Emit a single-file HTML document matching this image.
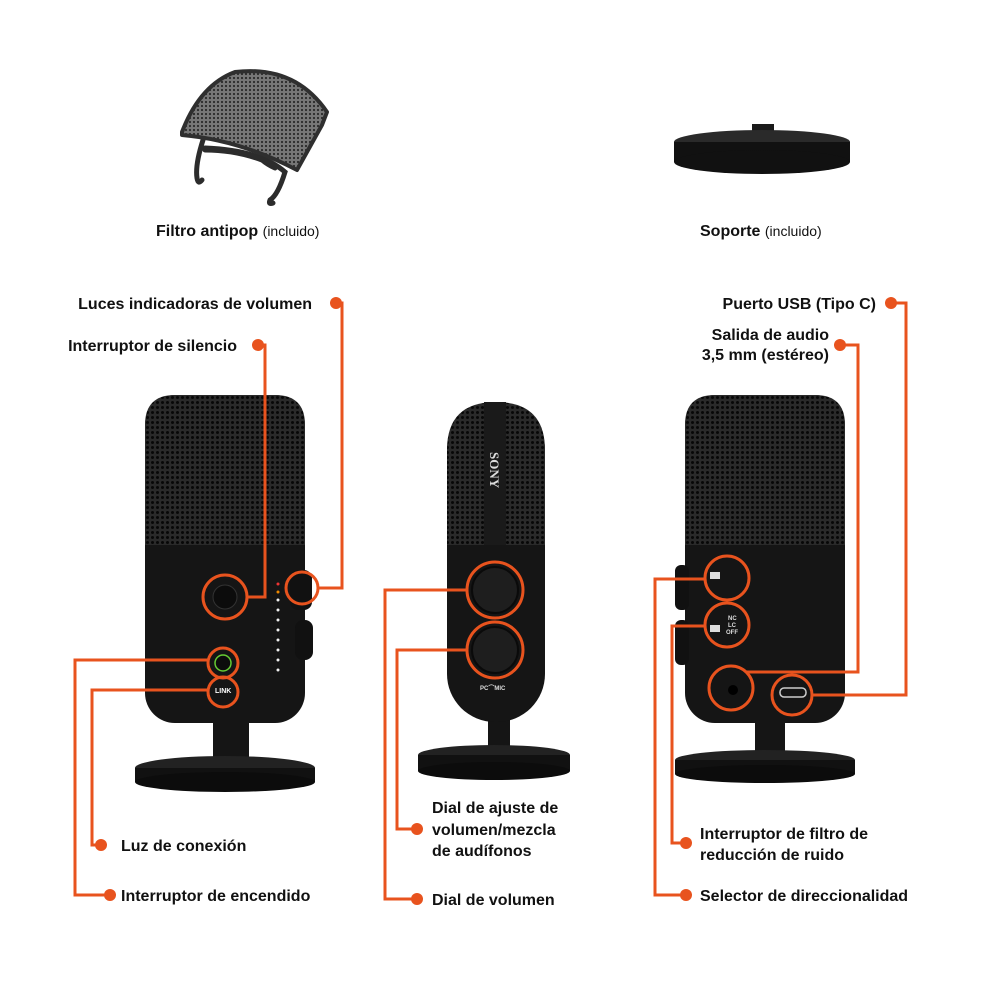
<!DOCTYPE html>
<html><head><meta charset="utf-8"><style>
html,body{margin:0;padding:0;background:#fff;}
svg{display:block;}
text{font-family:"Liberation Sans",sans-serif;font-size:16px;fill:#111;font-weight:bold;}
.l{font-weight:normal;font-size:14px;}
</style></head><body>
<svg width="1000" height="1000" viewBox="0 0 1000 1000" xmlns="http://www.w3.org/2000/svg">
<defs>
<pattern id="mesh" width="5" height="5" patternUnits="userSpaceOnUse">
<rect width="5" height="5" fill="#2a2a2a"/><circle cx="2.5" cy="2.5" r="1.5" fill="#070707"/>
</pattern>
<pattern id="pm" width="4" height="4" patternUnits="userSpaceOnUse">
<rect width="4" height="4" fill="#777"/><circle cx="2" cy="2" r="1.1" fill="#2a2a2a"/>
</pattern>
</defs>

<!-- pop filter -->
<path d="M203 140 Q195 165 197 178 Q198 185 202 180 M205 150 Q235 150 262 160 M262 160 Q268 165 275 168 M205 148 Q260 150 285 172 Q278 195 270 200 Q268 205 273 203" fill="none" stroke="#2c2c2c" stroke-width="5" stroke-linecap="round"/>
<path d="M182 132 Q200 85 235 72 Q295 65 327 112 L322 125 L297 170 Q240 140 182 135 Z" fill="url(#pm)" stroke="#2f2f2f" stroke-width="4" stroke-linejoin="round"/>
<text x="156" y="236">Filtro antipop <tspan class="l">(incluido)</tspan></text>

<!-- stand -->
<rect x="752" y="124" width="22" height="18" fill="#1a1a1a"/>
<ellipse cx="762" cy="142" rx="88" ry="12" fill="#2a2a2a"/>
<rect x="674" y="142" width="176" height="20" fill="#111"/>
<ellipse cx="762" cy="162" rx="88" ry="12" fill="#111"/>
<text x="700" y="236">Soporte <tspan class="l">(incluido)</tspan></text>

<!-- left mic -->
<rect x="213" y="718" width="36" height="45" fill="#151515"/>
<ellipse cx="225" cy="768" rx="90" ry="12" fill="#222"/>
<rect x="135" y="768" width="180" height="14" fill="#111"/>
<ellipse cx="225" cy="782" rx="90" ry="10" fill="#0c0c0c"/>
<rect x="145" y="395" width="160" height="328" rx="30" fill="#151515"/>
<path d="M145 425 Q145 395 175 395 L275 395 Q305 395 305 425 L305 545 L145 545 Z" fill="url(#mesh)"/>
<rect x="290" y="570" width="22" height="40" rx="8" fill="#111"/>
<rect x="295" y="620" width="18" height="40" rx="8" fill="#111"/>
<circle cx="225" cy="597" r="12" fill="#0c0c0c" stroke="#333"/>
<circle cx="223" cy="663" r="8" fill="#0c0c0c" stroke="#6c3" stroke-width="1.5"/>
<text x="215" y="693" style="font-size:7px;fill:#fff">LINK</text>
<g fill="#eee"><circle cx="278" cy="600" r="1.5"/><circle cx="278" cy="610" r="1.5"/><circle cx="278" cy="620" r="1.5"/><circle cx="278" cy="630" r="1.5"/><circle cx="278" cy="640" r="1.5"/><circle cx="278" cy="650" r="1.5"/><circle cx="278" cy="660" r="1.5"/><circle cx="278" cy="670" r="1.5"/></g>
<circle cx="278" cy="584" r="1.5" fill="#e33"/><circle cx="278" cy="592" r="1.5" fill="#e80"/>

<!-- middle mic -->
<rect x="488" y="720" width="22" height="30" fill="#151515"/>
<ellipse cx="494" cy="755" rx="76" ry="10" fill="#222"/>
<rect x="418" y="755" width="152" height="16" fill="#111"/>
<ellipse cx="494" cy="771" rx="76" ry="9" fill="#0c0c0c"/>
<rect x="447" y="402" width="98" height="320" rx="48" fill="#151515"/>
<path d="M447 450 Q447 402 496 402 Q545 402 545 450 L545 545 L447 545 Z" fill="url(#mesh)"/>
<rect x="484" y="402" width="22" height="143" fill="#1a1a1a"/>
<text x="0" y="0" transform="translate(490,452) rotate(90)" style="font-family:'Liberation Serif',serif;font-size:13px;fill:#ddd">SONY</text>
<circle cx="495" cy="590" r="23" fill="#1e1e1e" stroke="#0a0a0a" stroke-width="2"/>
<circle cx="495" cy="650" r="23" fill="#1e1e1e" stroke="#0a0a0a" stroke-width="2"/>
<text x="480" y="690" style="font-size:6px;fill:#ddd">PC⌒MIC</text>

<!-- right mic -->
<rect x="755" y="718" width="30" height="40" fill="#151515"/>
<ellipse cx="765" cy="760" rx="90" ry="10" fill="#222"/>
<rect x="675" y="760" width="180" height="14" fill="#111"/>
<ellipse cx="765" cy="774" rx="90" ry="9" fill="#0c0c0c"/>
<rect x="685" y="395" width="160" height="328" rx="30" fill="#151515"/>
<path d="M685 425 Q685 395 715 395 L815 395 Q845 395 845 425 L845 545 L685 545 Z" fill="url(#mesh)"/>
<rect x="675" y="565" width="14" height="45" rx="6" fill="#111"/>
<rect x="675" y="620" width="14" height="45" rx="6" fill="#111"/>
<rect x="710" y="572" width="10" height="7" fill="#ddd"/>
<rect x="710" y="625" width="10" height="7" fill="#ddd"/>
<text x="728" y="620" style="font-size:6px;fill:#ddd">NC</text>
<text x="728" y="627" style="font-size:6px;fill:#ddd">LC</text>
<text x="726" y="634" style="font-size:6px;fill:#ddd">OFF</text>
<circle cx="733" cy="690" r="5" fill="#000"/>
<rect x="780" y="688" width="26" height="9" rx="4" fill="none" stroke="#ccc" stroke-width="1.5"/>

<!-- orange callouts -->
<g fill="none" stroke="#e8531e" stroke-width="3">
<circle cx="302" cy="588" r="16"/>
<circle cx="225" cy="597" r="22"/>
<circle cx="223" cy="663" r="15"/>
<circle cx="223" cy="692" r="15"/>
<circle cx="495" cy="590" r="28"/>
<circle cx="495" cy="650" r="28"/>
<circle cx="727" cy="578" r="22"/>
<circle cx="727" cy="625" r="22"/>
<circle cx="731" cy="688" r="22"/>
<circle cx="792" cy="695" r="20"/>
<polyline points="336,303 342,303 342,588 318,588"/>
<polyline points="258,345 265,345 265,597 247,597"/>
<polyline points="101,845 92,845 92,690 208,690"/>
<polyline points="110,895 75,895 75,660 208,660"/>
<polyline points="417,829 397,829 397,650 467,650"/>
<polyline points="417,899 385,899 385,590 467,590"/>
<polyline points="891,303 906,303 906,695 812,695"/>
<polyline points="840,345 858,345 858,672 746,672"/>
<polyline points="686,843 672,843 672,626 705,626"/>
<polyline points="686,895 655,895 655,579 705,579"/>
</g>
<g fill="#e8531e">
<circle cx="336" cy="303" r="6"/><circle cx="258" cy="345" r="6"/>
<circle cx="101" cy="845" r="6"/><circle cx="110" cy="895" r="6"/>
<circle cx="417" cy="829" r="6"/><circle cx="417" cy="899" r="6"/>
<circle cx="891" cy="303" r="6"/><circle cx="840" cy="345" r="6"/>
<circle cx="686" cy="843" r="6"/><circle cx="686" cy="895" r="6"/>
</g>

<!-- labels -->
<text x="312" y="309" text-anchor="end">Luces indicadoras de volumen</text>
<text x="237" y="351" text-anchor="end">Interruptor de silencio</text>
<text x="121" y="851">Luz de conexión</text>
<text x="121" y="901">Interruptor de encendido</text>
<text x="432" y="813">Dial de ajuste de</text>
<text x="432" y="835">volumen/mezcla</text>
<text x="432" y="856">de audífonos</text>
<text x="432" y="905">Dial de volumen</text>
<text x="876" y="309" text-anchor="end">Puerto USB (Tipo C)</text>
<text x="829" y="340" text-anchor="end">Salida de audio</text>
<text x="829" y="360" text-anchor="end">3,5 mm (estéreo)</text>
<text x="700" y="839">Interruptor de filtro de</text>
<text x="700" y="860">reducción de ruido</text>
<text x="700" y="901">Selector de direccionalidad</text>
</svg>
</body></html>
